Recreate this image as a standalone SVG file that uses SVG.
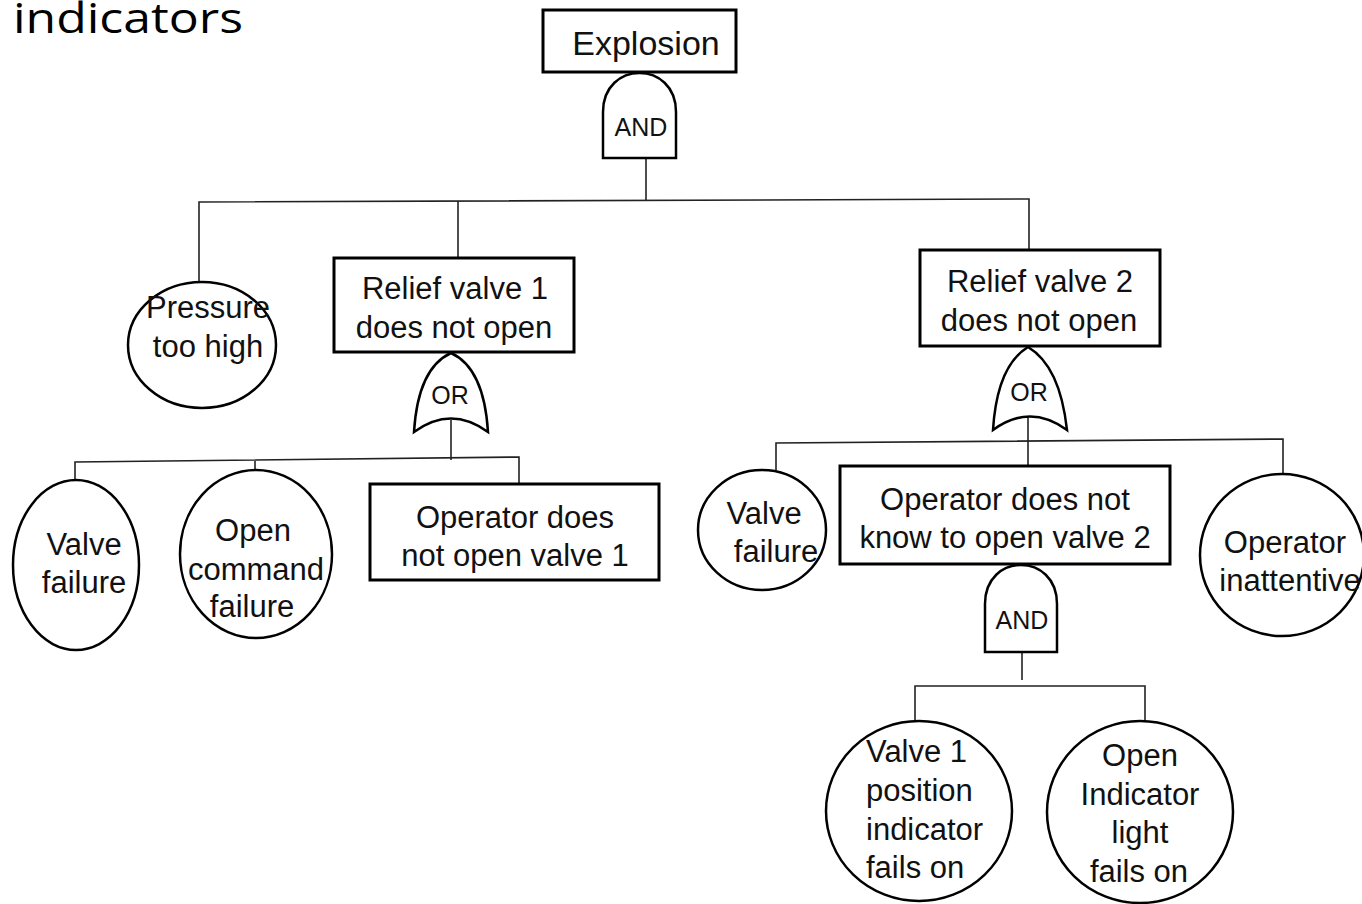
<svg xmlns="http://www.w3.org/2000/svg" width="1362" height="904" viewBox="0 0 1362 904">
<style>
.box{fill:#fff;stroke:#000;stroke-width:3}
.ev{fill:#fff;stroke:#000;stroke-width:2.5}
.gate{fill:#fff;stroke:#000;stroke-width:2.5}
.c{fill:none;stroke:#222;stroke-width:1.6}
.t{font-family:"Liberation Sans",Arial,sans-serif;font-size:31px;fill:#111;text-anchor:middle}
.g{font-family:"Liberation Sans",Arial,sans-serif;font-size:25px;fill:#111;text-anchor:middle}
.title{font-family:"Open Sans","Liberation Sans",sans-serif;font-size:42px;fill:#000}
</style>
<rect width="1362" height="904" fill="#fff"/>
<text class="title" x="13" y="33" textLength="230" lengthAdjust="spacingAndGlyphs">indicators</text>

<g id="connectors">
<line class="c" x1="646" y1="158" x2="646" y2="200"/>
<polyline class="c" points="199,282 199,202 1029,199 1029,250"/>
<line class="c" x1="458" y1="201" x2="458" y2="258"/>
<line class="c" x1="451" y1="420" x2="451" y2="460"/>
<polyline class="c" points="75,480 75,462 519,457 519,484"/>
<line class="c" x1="255" y1="461" x2="255" y2="470"/>
<line class="c" x1="1028" y1="416" x2="1028" y2="466"/>
<polyline class="c" points="776,470 776,443 1283,439 1283,474"/>
<line class="c" x1="1022" y1="652" x2="1022" y2="680"/>
<polyline class="c" points="915,722 915,686 1145,686 1145,722"/>
</g>

<g id="explosion">
<rect class="box" x="543" y="10" width="193" height="62"/>
<text class="t" x="646" y="55" style="font-size:34px">Explosion</text>
</g>
<g id="and1">
<path class="gate" d="M603,158 L603,112 C603,60 676,60 676,112 L676,158 Z"/>
<text class="g" x="641" y="136">AND</text>
</g>
<g id="pressure">
<ellipse class="ev" cx="202" cy="345" rx="74" ry="63"/>
<text class="t" x="208" y="318">Pressure</text>
<text class="t" x="208" y="357">too high</text>
</g>
<g id="relief1">
<rect class="box" x="334" y="258" width="240" height="94"/>
<text class="t" x="455" y="299">Relief valve  1</text>
<text class="t" x="454" y="338">does not open</text>
</g>
<g id="or1">
<path class="gate" d="M414,432 Q418,368 451,353 Q484,368 488,432 Q451,405 414,432 Z"/>
<text class="g" x="450" y="404">OR</text>
</g>
<g id="valvefail1">
<ellipse class="ev" cx="76" cy="565" rx="63" ry="85"/>
<text class="t" x="84" y="555">Valve</text>
<text class="t" x="84" y="593">failure</text>
</g>
<g id="opencmd">
<ellipse class="ev" cx="256" cy="554" rx="76" ry="84"/>
<text class="t" x="253" y="541">Open</text>
<text class="t" x="256" y="580">command</text>
<text class="t" x="252" y="617">failure</text>
</g>
<g id="opnotopen1">
<rect class="box" x="370" y="484" width="289" height="96"/>
<text class="t" x="515" y="528">Operator does</text>
<text class="t" x="515" y="566">not open valve  1</text>
</g>
<g id="relief2">
<rect class="box" x="920" y="250" width="240" height="96"/>
<text class="t" x="1040" y="292">Relief valve  2</text>
<text class="t" x="1039" y="331">does not open</text>
</g>
<g id="or2">
<path class="gate" d="M993,430 Q997,366 1028,347 Q1060,366 1067,430 Q1030,403 993,430 Z"/>
<text class="g" x="1029" y="401">OR</text>
</g>
<g id="valvefail2">
<ellipse class="ev" cx="762" cy="530" rx="64" ry="60"/>
<text class="t" x="764" y="524">Valve</text>
<text class="t" x="776" y="562">failure</text>
</g>
<g id="opnotknow">
<rect class="box" x="840" y="466" width="330" height="98"/>
<text class="t" x="1005" y="510">Operator does not</text>
<text class="t" x="1005" y="548">know to open valve  2</text>
</g>
<g id="inattentive">
<ellipse class="ev" cx="1282" cy="555" rx="82" ry="81"/>
<text class="t" x="1285" y="553">Operator</text>
<text class="t" x="1290" y="591">inattentive</text>
</g>
<g id="and2">
<path class="gate" d="M985,652 L985,604 C985,552 1057,552 1057,604 L1057,652 Z"/>
<text class="g" x="1022" y="629">AND</text>
</g>
<g id="valve1pos">
<ellipse class="ev" cx="919" cy="811" rx="93" ry="90"/>
<text class="t" x="866" y="762" style="text-anchor:start">Valve 1</text>
<text class="t" x="866" y="801" style="text-anchor:start">position</text>
<text class="t" x="866" y="840" style="text-anchor:start">indicator</text>
<text class="t" x="866" y="878" style="text-anchor:start">fails on</text>
</g>
<g id="openind">
<ellipse class="ev" cx="1140" cy="812" rx="93" ry="91"/>
<text class="t" x="1140" y="766">Open</text>
<text class="t" x="1140" y="805">Indicator</text>
<text class="t" x="1140" y="843">light</text>
<text class="t" x="1139" y="882">fails on</text>
</g>
</svg>
